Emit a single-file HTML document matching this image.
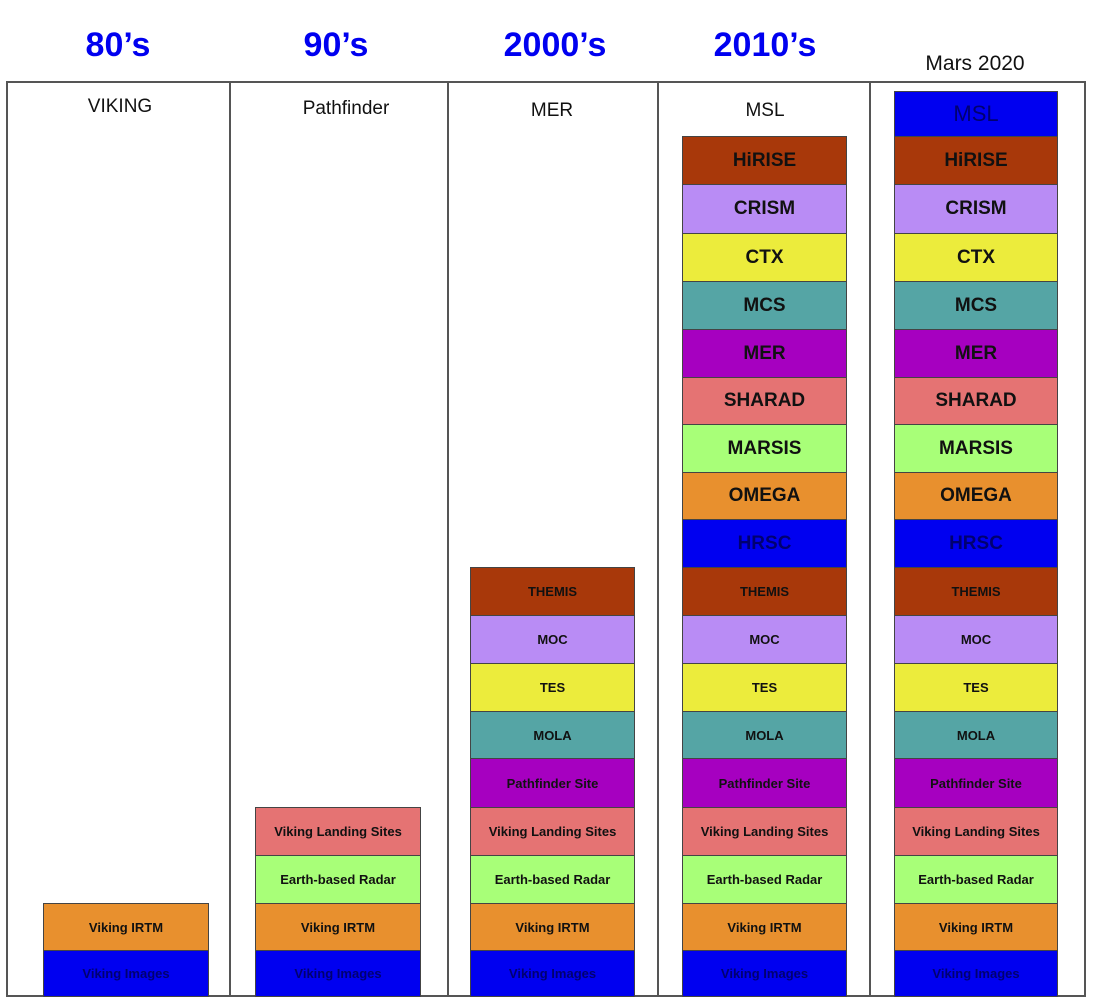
<!DOCTYPE html>
<html><head><meta charset="utf-8"><style>
body{margin:0;width:1094px;height:1005px;background:#fff;position:relative;overflow:hidden;font-family:"Liberation Sans",sans-serif}
.h{position:absolute;top:26px;font-weight:bold;color:#0000f0;font-size:34px;width:200px;text-align:center}
.l{position:absolute;width:200px;text-align:center;font-size:19px;color:#111}
.v{position:absolute;background:#555;width:2px}
.b{position:absolute;box-sizing:border-box;border:1px solid #444;display:flex;align-items:center;justify-content:center;font-weight:bold;color:#111;font-size:13px}
.B{font-size:19px}
.c1{left:43px;width:166px}.c2{left:255px;width:166px}.c3{left:470px;width:165px}.c4{left:682px;width:165px}.c5{left:894px;width:164px}
.VI{top:950px;height:47px;background:#0000f0;color:#000070}
.IR{top:903px;height:48px;background:#e8902e}
.EB{top:855px;height:49px;background:#a8ff78}
.VL{top:807px;height:49px;background:#e57373}
.PF{top:758px;height:50px;background:#a600c0}
.MO{top:711px;height:48px;background:#55a5a5}
.TE{top:663px;height:49px;background:#ecec3c}
.MC{top:615px;height:49px;background:#b98cf5}
.TH{top:567px;height:49px;background:#a8380a}
.HR{top:519px;height:49px;background:#0000f0;color:#000070}
.OM{top:472px;height:48px;background:#e8902e}
.MA{top:424px;height:49px;background:#a8ff78}
.SH{top:377px;height:48px;background:#e57373}
.ME{top:329px;height:49px;background:#a600c0}
.MS{top:281px;height:49px;background:#55a5a5}
.CT{top:233px;height:49px;background:#ecec3c}
.CR{top:184px;height:50px;background:#b98cf5}
.HI{top:136px;height:49px;background:#a8380a}
.MSL{top:91px;height:46px;background:#0000f0;color:#000070}
</style></head><body>
<div class="h" style="left:18px">80’s</div>
<div class="h" style="left:236px">90’s</div>
<div class="h" style="left:455px">2000’s</div>
<div class="h" style="left:665px">2010’s</div>
<div class="l" style="left:875px;top:52px;font-size:21px">Mars 2020</div>
<div style="position:absolute;left:6px;top:81px;width:1080px;height:2px;background:#555"></div>
<div style="position:absolute;left:6px;top:995px;width:1080px;height:2px;background:#555"></div>
<div class="v" style="left:6px;top:81px;height:916px"></div>
<div class="v" style="left:229px;top:81px;height:916px"></div>
<div class="v" style="left:447px;top:81px;height:916px"></div>
<div class="v" style="left:657px;top:81px;height:916px"></div>
<div class="v" style="left:869px;top:81px;height:916px"></div>
<div class="v" style="left:1084px;top:81px;height:916px"></div>
<div class="l" style="left:20px;top:96px">VIKING</div>
<div class="l" style="left:246px;top:98px">Pathfinder</div>
<div class="l" style="left:452px;top:100px">MER</div>
<div class="l" style="left:665px;top:100px">MSL</div>

<div class="b c1 VI">Viking Images</div><div class="b c1 IR">Viking IRTM</div>

<div class="b c2 VI">Viking Images</div><div class="b c2 IR">Viking IRTM</div><div class="b c2 EB">Earth-based Radar</div><div class="b c2 VL">Viking Landing Sites</div>

<div class="b c3 VI">Viking Images</div><div class="b c3 IR">Viking IRTM</div><div class="b c3 EB">Earth-based Radar</div><div class="b c3 VL">Viking Landing Sites</div><div class="b c3 PF">Pathfinder Site</div><div class="b c3 MO">MOLA</div><div class="b c3 TE">TES</div><div class="b c3 MC">MOC</div><div class="b c3 TH">THEMIS</div>

<div class="b c4 VI">Viking Images</div><div class="b c4 IR">Viking IRTM</div><div class="b c4 EB">Earth-based Radar</div><div class="b c4 VL">Viking Landing Sites</div><div class="b c4 PF">Pathfinder Site</div><div class="b c4 MO">MOLA</div><div class="b c4 TE">TES</div><div class="b c4 MC">MOC</div><div class="b c4 TH">THEMIS</div><div class="b B c4 HR">HRSC</div><div class="b B c4 OM">OMEGA</div><div class="b B c4 MA">MARSIS</div><div class="b B c4 SH">SHARAD</div><div class="b B c4 ME">MER</div><div class="b B c4 MS">MCS</div><div class="b B c4 CT">CTX</div><div class="b B c4 CR">CRISM</div><div class="b B c4 HI">HiRISE</div>

<div class="b c5 VI">Viking Images</div><div class="b c5 IR">Viking IRTM</div><div class="b c5 EB">Earth-based Radar</div><div class="b c5 VL">Viking Landing Sites</div><div class="b c5 PF">Pathfinder Site</div><div class="b c5 MO">MOLA</div><div class="b c5 TE">TES</div><div class="b c5 MC">MOC</div><div class="b c5 TH">THEMIS</div><div class="b B c5 HR">HRSC</div><div class="b B c5 OM">OMEGA</div><div class="b B c5 MA">MARSIS</div><div class="b B c5 SH">SHARAD</div><div class="b B c5 ME">MER</div><div class="b B c5 MS">MCS</div><div class="b B c5 CT">CTX</div><div class="b B c5 CR">CRISM</div><div class="b B c5 HI">HiRISE</div><div class="b B c5 MSL" style="font-weight:normal;font-size:22px">MSL</div>
</body></html>
